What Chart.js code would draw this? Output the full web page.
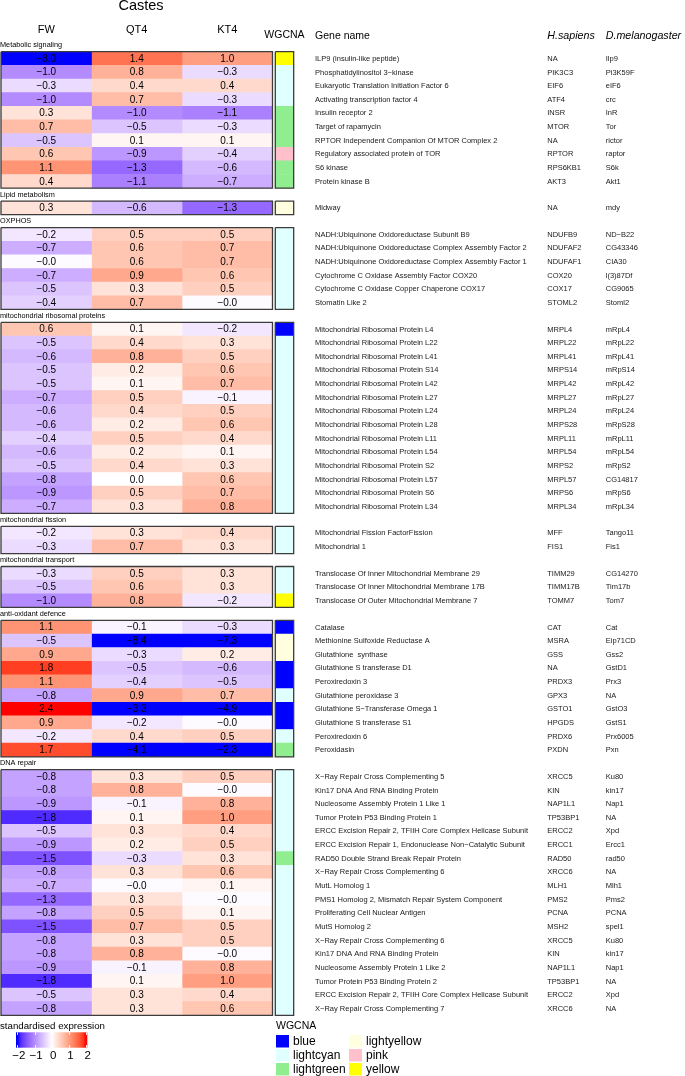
<!DOCTYPE html>
<html>
<head>
<meta charset="utf-8">
<script src="https://cdn.jsdelivr.net/npm/chart.js@4.4.1/dist/chart.umd.min.js"></script>
<style>
  html, body { margin: 0; padding: 0; background: #fff; }
  canvas { display: block; }
</style>
</head>
<body>
<canvas id="heat" width="685" height="1076"></canvas>
<script>
// ---- data ----
const castes = ["FW", "QT4", "KT4"];
const blockNames = ["Metabolic signaling", "Lipid metabolism", "OXPHOS", "mitochondrial ribosomal proteins",
  "mitochondrial fission", "mitochondrial transport", "anti-oxidant defence", "DNA repair"];
const blockSizes = [10, 1, 6, 14, 2, 3, 10, 18];

const fw = [-8.0, -1.0, -0.3, -1.0, 0.3, 0.7, -0.5, 0.6, 1.1, 0.4,
  0.3,
  -0.2, -0.7, -0.03, -0.7, -0.5, -0.4,
  0.6, -0.5, -0.6, -0.5, -0.5, -0.7, -0.6, -0.6, -0.4, -0.6, -0.5, -0.8, -0.9, -0.7,
  -0.2, -0.3,
  -0.3, -0.5, -1.0,
  1.1, -0.5, 0.9, 1.8, 1.1, -0.8, 2.4, 0.9, -0.2, 1.7,
  -0.8, -0.8, -0.9, -1.8, -0.5, -0.9, -1.5, -0.8, -0.7, -1.3, -0.8, -1.5, -0.8, -0.8, -0.9, -1.8, -0.5, -0.8];
const qt4 = [1.4, 0.8, 0.4, 0.7, -1.0, -0.5, 0.1, -0.9, -1.3, -1.1,
  -0.6,
  0.5, 0.6, 0.6, 0.9, 0.3, 0.7,
  0.1, 0.4, 0.8, 0.2, 0.1, 0.5, 0.4, 0.2, 0.5, 0.2, 0.4, 0.0, 0.5, 0.3,
  0.3, 0.7,
  0.5, 0.6, 0.8,
  -0.1, -8.4, -0.3, -0.5, -0.4, 0.9, -3.3, -0.2, 0.4, -4.1,
  0.3, 0.8, -0.1, 0.1, 0.3, 0.2, -0.3, 0.3, -0.03, 0.3, 0.5, 0.7, 0.3, 0.8, -0.1, 0.1, 0.3, 0.3];
const kt4 = [1.0, -0.3, 0.4, -0.3, -1.1, -0.3, 0.1, -0.4, -0.6, -0.7,
  -1.3,
  0.5, 0.7, 0.7, 0.6, 0.5, -0.03,
  -0.2, 0.3, 0.5, 0.6, 0.7, -0.1, 0.5, 0.6, 0.4, 0.1, 0.3, 0.6, 0.7, 0.8,
  0.4, 0.3,
  0.3, 0.3, -0.2,
  -0.3, -7.3, 0.2, -0.6, -0.5, 0.7, -4.9, -0.03, 0.5, -2.3,
  0.5, -0.03, 0.8, 1.0, 0.4, 0.5, 0.3, 0.6, 0.1, -0.03, 0.1, 0.5, 0.5, -0.03, 0.8, 1.0, 0.4, 0.6];

const wgcna = ["yellow", "lightcyan", "lightcyan", "lightcyan", "lightgreen", "lightgreen", "lightgreen", "pink", "lightgreen", "lightgreen",
  "lightyellow",
  "lightcyan", "lightcyan", "lightcyan", "lightcyan", "lightcyan", "lightcyan",
  "blue", "lightcyan", "lightcyan", "lightcyan", "lightcyan", "lightcyan", "lightcyan", "lightcyan", "lightcyan", "lightcyan", "lightcyan", "lightcyan", "lightcyan", "lightcyan",
  "lightcyan", "lightcyan",
  "lightcyan", "lightcyan", "yellow",
  "blue", "lightyellow", "lightyellow", "blue", "blue", "lightcyan", "blue", "blue", "lightcyan", "lightgreen",
  "lightcyan", "lightcyan", "lightcyan", "lightcyan", "lightcyan", "lightcyan", "lightgreen", "lightcyan", "lightcyan",
  "lightcyan", "lightcyan", "lightcyan", "lightcyan", "lightcyan", "lightcyan", "lightcyan", "lightcyan", "lightcyan"];

const geneNames = ["ILP9 (insulin-like peptide)", "Phosphatidylinositol 3\u2212kinase", "Eukaryotic Translation Initiation Factor 6",
  "Activating transcription factor 4", "Insulin receptor 2", "Target of rapamycin", "RPTOR Independent Companion Of MTOR Complex 2",
  "Regulatory associated protein of TOR", "S6 kinase", "Protein kinase B",
  "Midway",
  "NADH:Ubiquinone Oxidoreductase Subunit B9", "NADH:Ubiquinone Oxidoreductase Complex Assembly Factor 2",
  "NADH:Ubiquinone Oxidoreductase Complex Assembly Factor 1", "Cytochrome C Oxidase Assembly Factor COX20",
  "Cytochrome C Oxidase Copper Chaperone COX17", "Stomatin Like 2",
  "Mitochondrial Ribosomal Protein L4", "Mitochondrial Ribosomal Protein L22", "Mitochondrial Ribosomal Protein L41",
  "Mitochondrial Ribosomal Protein S14", "Mitochondrial Ribosomal Protein L42", "Mitochondrial Ribosomal Protein L27",
  "Mitochondrial Ribosomal Protein L24", "Mitochondrial Ribosomal Protein L28", "Mitochondrial Ribosomal Protein L11",
  "Mitochondrial Ribosomal Protein L54", "Mitochondrial Ribosomal Protein S2", "Mitochondrial Ribosomal Protein L57",
  "Mitochondrial Ribosomal Protein S6", "Mitochondrial Ribosomal Protein L34",
  "Mitochondrial Fission FactorFission", "Mitochondrial 1",
  "Translocase Of Inner Mitochondrial Membrane 29", "Translocase Of Inner Mitochondrial Membrane 17B",
  "Translocase Of Outer Mitochondrial Membrane 7",
  "Catalase", "Methionine Sulfoxide Reductase A", "Glutathione  synthase", "Glutathione S transferase D1", "Peroxiredoxin 3",
  "Glutathione peroxidase 3", "Glutathione S\u2212Transferase Omega 1", "Glutathione S transferase S1", "Peroxiredoxin 6", "Peroxidasin",
  "X\u2212Ray Repair Cross Complementing 5", "Kin17 DNA And RNA Binding Protein", "Nucleosome Assembly Protein 1 Like 1",
  "Tumor Protein P53 Binding Protein 1", "ERCC Excision Repair 2, TFIIH Core Complex Helicase Subunit",
  "ERCC Excision Repair 1, Endonuclease Non\u2212Catalytic Subunit", "RAD50 Double Strand Break Repair Protein",
  "X\u2212Ray Repair Cross Complementing 6", "MutL Homolog 1", "PMS1 Homolog 2, Mismatch Repair System Component",
  "Proliferating Cell Nuclear Antigen", "MutS Homolog 2", "X\u2212Ray Repair Cross Complementing 6",
  "Kin17 DNA And RNA Binding Protein", "Nucleosome Assembly Protein 1 Like 2", "Tumor Protein P53 Binding Protein 2",
  "ERCC Excision Repair 2, TFIIH Core Complex Helicase Subunit", "X\u2212Ray Repair Cross Complementing 7"];
const hsapiens = ["NA", "PIK3C3", "EIF6", "ATF4", "INSR", "MTOR", "NA", "RPTOR", "RPS6KB1", "AKT3",
  "NA",
  "NDUFB9", "NDUFAF2", "NDUFAF1", "COX20", "COX17", "STOML2",
  "MRPL4", "MRPL22", "MRPL41", "MRPS14", "MRPL42", "MRPL27", "MRPL24", "MRPS28", "MRPL11", "MRPL54", "MRPS2", "MRPL57", "MRPS6", "MRPL34",
  "MFF", "FIS1",
  "TIMM29", "TIMM17B", "TOMM7",
  "CAT", "MSRA", "GSS", "NA", "PRDX3", "GPX3", "GSTO1", "HPGDS", "PRDX6", "PXDN",
  "XRCC5", "KIN", "NAP1L1", "TP53BP1", "ERCC2", "ERCC1", "RAD50", "XRCC6", "MLH1", "PMS2", "PCNA", "MSH2",
  "XRCC5", "KIN", "NAP1L1", "TP53BP1", "ERCC2", "XRCC6"];
const dmel = ["Ilp9", "Pi3K59F", "eIF6", "crc", "InR", "Tor", "rictor", "raptor", "S6k", "Akt1",
  "mdy",
  "ND\u2212B22", "CG43346", "CIA30", "l(3)87Df", "CG9065", "Stoml2",
  "mRpL4", "mRpL22", "mRpL41", "mRpS14", "mRpL42", "mRpL27", "mRpL24", "mRpS28", "mRpL11", "mRpL54", "mRpS2", "CG14817", "mRpS6", "mRpL34",
  "Tango11", "Fis1",
  "CG14270", "Tim17b", "Tom7",
  "Cat", "Eip71CD", "Gss2", "GstD1", "Prx3", "NA", "GstO3", "GstS1", "Prx6005", "Pxn",
  "Ku80", "kin17", "Nap1", "NA", "Xpd", "Ercc1", "rad50", "NA", "Mlh1", "Pms2", "PCNA", "spel1",
  "Ku80", "kin17", "Nap1", "NA", "Xpd", "NA"];

const legendTicks = [-2, -1, 0, 1, 2];
const legendModules = [["blue", "lightcyan", "lightgreen"], ["lightyellow", "pink", "yellow"]];

// ---- colours ----
const moduleColour = {
  blue: "#0000FF", lightcyan: "#E0FFFF", lightgreen: "#90EE90",
  lightyellow: "#FFFFE0", pink: "#FFC0CB", yellow: "#FFFF00"
};

function hexToLab(hex) {
  const n = parseInt(hex.slice(1), 16);
  const c = [(n >> 16) & 255, (n >> 8) & 255, n & 255].map(v => {
    v /= 255;
    return v <= 0.04045 ? v / 12.92 : Math.pow((v + 0.055) / 1.055, 2.4);
  });
  const X = (0.4124 * c[0] + 0.3576 * c[1] + 0.1805 * c[2]) / 0.95047;
  const Y = 0.2126 * c[0] + 0.7152 * c[1] + 0.0722 * c[2];
  const Z = (0.0193 * c[0] + 0.1192 * c[1] + 0.9505 * c[2]) / 1.08883;
  const f = t => t > 0.008856 ? Math.cbrt(t) : 7.787 * t + 16 / 116;
  return [116 * f(Y) - 16, 500 * (f(X) - f(Y)), 200 * (f(Y) - f(Z))];
}
function labToCss(L, a, b) {
  const fy = (L + 16) / 116, fx = fy + a / 500, fz = fy - b / 200;
  const inv = t => t * t * t > 0.008856 ? t * t * t : (t - 16 / 116) / 7.787;
  const X = 0.95047 * inv(fx), Y = inv(fy), Z = 1.08883 * inv(fz);
  const lin = [3.2406 * X - 1.5372 * Y - 0.4986 * Z,
    -0.9689 * X + 1.8758 * Y + 0.0415 * Z,
    0.0557 * X - 0.2040 * Y + 1.0570 * Z];
  const rgb = lin.map(v => {
    v = Math.max(0, Math.min(1, v));
    v = v <= 0.0031308 ? 12.92 * v : 1.055 * Math.pow(v, 1 / 2.4) - 0.055;
    return Math.round(v * 255);
  });
  return "rgb(" + rgb.join(",") + ")";
}
const LAB_BLUE = hexToLab("#0000FF"), LAB_WHITE = hexToLab("#FFFFFF"), LAB_RED = hexToLab("#FF0000");
function expColour(v) {
  v = Math.max(-2, Math.min(2, v));
  const t = Math.abs(v) / 2;
  const end = v < 0 ? LAB_BLUE : LAB_RED;
  return labToCss(LAB_WHITE[0] + (end[0] - LAB_WHITE[0]) * t,
    LAB_WHITE[1] + (end[1] - LAB_WHITE[1]) * t,
    LAB_WHITE[2] + (end[2] - LAB_WHITE[2]) * t);
}

// ---- layout (x in heatmap-column units, y in row units) ----
const COL_PX = 90.5;
const XMAX = 684 / COL_PX;
const WG_L = 3.031, WG_R = 3.234;
const GENE_X = 3.47, HS_X = 6.036, DM_X = 6.682;
const GAP = 0.946;

const rowPos = [], blockTop = [];
let rowCount = 0;
blockSizes.forEach((n, b) => {
  const top = rowCount + b * GAP;
  blockTop.push(top);
  for (let i = 0; i < n; i++) rowPos.push(top + i + 0.5);
  rowCount += n;
});
const YMAX = rowCount + (blockSizes.length - 1) * GAP;

const FONT = "'Liberation Sans', Arial, sans-serif";

// ---- datasets ----
const cellSets = [fw, qt4, kt4].map((vals, c) => ({
  type: "bar",
  label: castes[c],
  indexAxis: "y",
  data: vals.map((v, i) => ({ x: [c, c + 1], y: rowPos[i] })),
  backgroundColor: vals.map(expColour),
  borderWidth: 0,
  grouped: false,
  barPercentage: 1,
  categoryPercentage: 1,
  order: 2
}));

const wgcnaSet = {
  type: "bar",
  label: "WGCNA",
  indexAxis: "y",
  data: wgcna.map((m, i) => ({ x: [WG_L, WG_R], y: rowPos[i] })),
  backgroundColor: wgcna.map(m => moduleColour[m]),
  borderWidth: 0,
  grouped: false,
  barPercentage: 1,
  categoryPercentage: 1,
  order: 2
};

function frame(x0, x1, y0, y1) {
  return {
    type: "line",
    data: [{ x: x0, y: y0 }, { x: x1, y: y0 }, { x: x1, y: y1 }, { x: x0, y: y1 }, { x: x0, y: y0 }],
    borderColor: "#3c3c3c",
    borderWidth: 1.3,
    pointRadius: 0,
    fill: false,
    tension: 0,
    clip: false,
    order: 0
  };
}
const frameSets = [];
blockSizes.forEach((n, b) => {
  frameSets.push(frame(0, 3, blockTop[b], blockTop[b] + n));
  frameSets.push(frame(WG_L, WG_R, blockTop[b], blockTop[b] + n));
});

// ---- text drawing ----
function fmt(v) {
  return v.toFixed(1).replace("-", "\u2212");
}

const textPlugin = {
  id: "heatText",
  afterDraw(chart) {
    const ctx = chart.ctx;
    const x = chart.scales.x, y = chart.scales.y;
    ctx.save();
    ctx.textBaseline = "middle";

    // cell values
    ctx.fillStyle = "#000";
    ctx.textAlign = "center";
    ctx.font = "10px " + FONT;
    [fw, qt4, kt4].forEach((vals, c) => {
      chart.getDatasetMeta(c).data.forEach((el, i) => {
        const p = el.getCenterPoint();
        ctx.fillText(fmt(vals[i]), p.x, p.y + 0.5);
      });
    });

    // titles
    ctx.font = "14.5px " + FONT;
    ctx.fillText("Castes", x.getPixelForValue(1.547), 6);
    ctx.font = "11px " + FONT;
    castes.forEach((c, i) => ctx.fillText(c, x.getPixelForValue(i + 0.5), 29.5));
    ctx.font = "10.5px " + FONT;
    ctx.fillText("WGCNA", x.getPixelForValue((WG_L + WG_R) / 2), 35);
    ctx.textAlign = "left";
    ctx.fillText("Gene name", x.getPixelForValue(GENE_X), 36);
    ctx.font = "italic 10.7px " + FONT;
    ctx.fillText("H.sapiens", x.getPixelForValue(HS_X), 36);
    ctx.fillText("D.melanogaster", x.getPixelForValue(DM_X), 36);

    // block labels
    ctx.font = "7.3px " + FONT;
    blockNames.forEach((name, b) => {
      ctx.fillText(name, 0, y.getPixelForValue(blockTop[b]) - 6.3);
    });

    // gene rows
    ctx.fillStyle = "#1a1a1a";
    ctx.font = "7.5px " + FONT;
    rowPos.forEach((r, i) => {
      const py = y.getPixelForValue(r) + 0.3;
      ctx.fillText(geneNames[i], x.getPixelForValue(GENE_X), py);
      ctx.fillText(hsapiens[i], x.getPixelForValue(HS_X), py);
      ctx.fillText(dmel[i], x.getPixelForValue(DM_X), py);
    });

    // colour legend
    ctx.fillStyle = "#000";
    ctx.font = "9.7px " + FONT;
    ctx.fillText("standardised expression", 0, 1026);
    const barL = 16, barR = 87.3, barT = 1032.3, barB = 1047.7;
    const tickPx = v => 17.3 + (v + 2) * 17.2;
    const grad = ctx.createLinearGradient(tickPx(-2), 0, tickPx(2), 0);
    for (let s = 0; s <= 20; s++) {
      const v = -2 + s * 0.2;
      grad.addColorStop(s / 20, expColour(v));
    }
    ctx.fillStyle = grad;
    ctx.fillRect(barL, barT, barR - barL, barB - barT);
    ctx.strokeStyle = "#fff";
    ctx.lineWidth = 1;
    legendTicks.forEach(v => {
      const px = Math.round(tickPx(v)) + 0.5;
      ctx.beginPath();
      ctx.moveTo(px, barT); ctx.lineTo(px, barT + 2.5);
      ctx.moveTo(px, barB); ctx.lineTo(px, barB - 2.5);
      ctx.stroke();
    });
    ctx.fillStyle = "#000";
    ctx.textAlign = "center";
    ctx.font = "11.5px " + FONT;
    legendTicks.forEach(v => ctx.fillText(fmt(v).replace(".0", ""), tickPx(v) + 1.5, 1055.5));

    // module legend
    ctx.textAlign = "left";
    ctx.font = "10.5px " + FONT;
    ctx.fillText("WGCNA", 276, 1026);
    ctx.font = "12px " + FONT;
    const colX = [276, 349], labX = [293, 366];
    legendModules.forEach((col, ci) => {
      col.forEach((m, ri) => {
        const top = 1035 + ri * 14;
        ctx.fillStyle = moduleColour[m];
        ctx.fillRect(colX[ci], top, 13, 12.5);
        ctx.fillStyle = "#000";
        ctx.fillText(m, labX[ci], top + 6.5);
      });
    });
    ctx.restore();
  }
};

new Chart(document.getElementById("heat"), {
  type: "bar",
  data: { datasets: [...cellSets, wgcnaSet, ...frameSets] },
  options: {
    responsive: false,
    animation: false,
    devicePixelRatio: 1,
    indexAxis: "y",
    layout: { padding: { left: 1, right: 0, top: 51.7, bottom: 60.7 } },
    scales: {
      x: { type: "linear", display: false, min: 0, max: XMAX, offset: false },
      y: {
        type: "linear", display: false, reverse: true, min: 0, max: YMAX, offset: false,
        afterBuildTicks: s => { s.ticks = []; }
      }
    },
    plugins: { legend: { display: false }, tooltip: { enabled: false } }
  },
  plugins: [textPlugin]
});
</script>
</body>
</html>
